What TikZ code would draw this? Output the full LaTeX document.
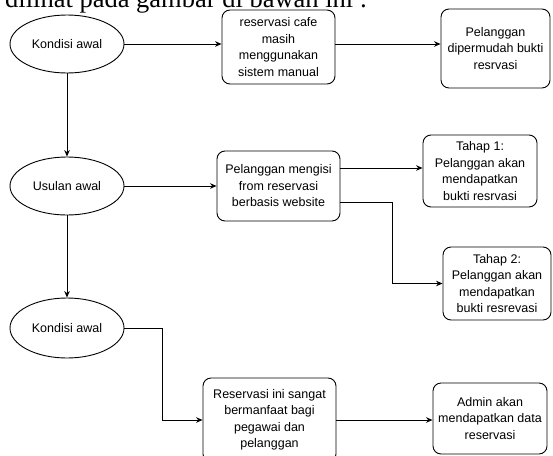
\documentclass[tikz,border=0pt]{standalone}
\usepackage{fontspec}
\setmainfont{Liberation Sans}
\newfontfamily\serifdoc{Liberation Serif}
\usetikzlibrary{arrows.meta,shapes.geometric}
\tikzset{
  lbl/.style={font=\fontsize{12.5pt}{16.5pt}\selectfont, align=center},
  oval/.style={ellipse, draw=black, line width=0.9pt, minimum width=114pt, minimum height=58pt, inner sep=0pt, lbl},
  rbox/.style={rectangle, rounded corners=8pt, draw=black, line width=0.9pt, inner sep=0pt, lbl},
  arr/.style={line width=0.9pt, -{Stealth[length=6.5pt,width=5.5pt]}},
}
\begin{document}
\begin{tikzpicture}[x=1pt,y=-1pt]
\clip (0,0) rectangle (553,455);
\fill[white] (0,0) rectangle (553,455);
\node[anchor=base west, inner sep=0pt, font=\serifdoc\fontsize{26.5pt}{30pt}\selectfont] (head) at (5,7) {dilihat pada gambar di bawah ini :};
% ovals
\node[oval] (e1) at (67,44) {Kondisi awal};
\node[oval] (e2) at (67,186) {Usulan awal};
\node[oval, minimum height=60pt] (e3) at (67,328) {Kondisi awal};
% boxes
\node[rbox, minimum width=113pt, minimum height=74pt] (b1) at (278.5,47) {reservasi cafe\\masih\\menggunakan\\sistem manual};
\node[rbox, minimum width=109pt, minimum height=79pt] (b2) at (495.5,48.5) {Pelanggan\\dipermudah bukti\\resrvasi};
\node[rbox, minimum width=123pt, minimum height=70pt] (b3) at (278.5,186) {Pelanggan mengisi\\from reservasi\\berbasis website};
\node[rbox, minimum width=114pt, minimum height=72pt] (b4) at (480,171) {Tahap 1:\\Pelanggan akan\\mendapatkan\\bukti resrvasi};
\node[rbox, minimum width=108pt, minimum height=73pt] (b5) at (497,283.5) {Tahap 2:\\Pelanggan akan\\mendapatkan\\bukti resrevasi};
\node[rbox, minimum width=133pt, minimum height=84pt] (b6) at (269.5,420) {Reservasi ini sangat\\bermanfaat bagi\\pegawai dan\\pelanggan};
\node[rbox, minimum width=114pt, minimum height=71pt] (b7) at (490,418.5) {Admin akan\\mendapatkan data\\reservasi};
% connectors
\draw[arr] (e1.east) -- (e1.east -| b1.west);
\draw[arr] (b1.east |- e1.east) -- (e1.east -| b2.west);
\draw[arr] (e1.south) -- (e2.north);
\draw[arr] (e2.south) -- (e3.north);
\draw[arr] (e2.east) -- (e2.east -| b3.west);
\coordinate (b3a) at ([yshift=18pt]b3.east);
\coordinate (b3b) at ([yshift=-16pt]b3.east);
\draw[arr] (b3a) -- (b3a -| b4.west);
\draw[arr] (b3b) -- ++(52,0) |- (b5.west);
\draw[arr] (e3.east) -- ++(38,0) |- (b6.west);
\draw[arr] (b6.east) -- (b6.east -| b7.west);
\end{tikzpicture}
\end{document}
